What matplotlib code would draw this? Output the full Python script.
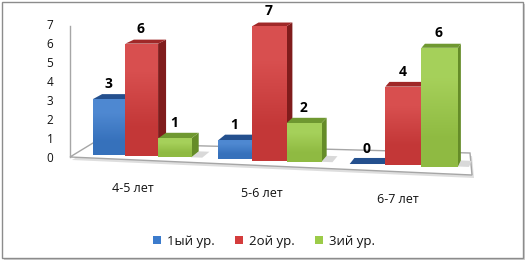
import matplotlib
matplotlib.use('Agg')
import numpy as np
import matplotlib.pyplot as plt
from matplotlib.patches import Polygon, Rectangle, Patch
from matplotlib.colors import to_rgb

# ---------------- data ----------------
categories = ['4-5 лет', '5-6 лет', '6-7 лет']
series_names = ['1ый ур.', '2ой ур.', '3ий ур.']
level1 = [3, 1, 0]
level2 = [6, 7, 4]
level3 = [1, 2, 6]
y_ticks = [0, 1, 2, 3, 4, 5, 6, 7]

# ---------------- style ----------------
front_colors = ['#3b7bcc', '#d43c3c', '#9ccb48']
top_colors = ['#24508e', '#a02828', '#6f9830']
side_colors = ['#1f4478', '#801c1c', '#658c28']

plt.rcParams['font.family'] = ['Open Sans', 'DejaVu Sans']

W, H = 527, 262
fig = plt.figure(figsize=(W / 100, H / 100), dpi=100)
ax = fig.add_axes([0, 0, 1, 1])
ax.axis('off')

# ---------------- 3D-like projection (pixel space) ----------------
GROUP_STEP = 3.8


def front_x(u):
    return 93 + 32.1 * u + 0.22 * u * u


def base_y(x):
    return 155.0 + 0.035 * (x - 110)


def unit_px(x):
    return 18.6 + 0.0035 * (x - 100)


VP = (628.0, -192.0)
DEPTH = 0.017


def back(x, y):
    return (x + DEPTH * (VP[0] - x), y + DEPTH * (VP[1] - y))


def axis_y(v):
    return 158.5 - 19.0 * v


def shade(c, f):
    r = np.array(to_rgb(c))
    if f >= 0:
        return tuple(r + (1 - r) * f)
    return tuple(r * (1 + f))


# outer frame with shadow
ax.add_patch(Rectangle((3.5, 3.5), 521, 256, facecolor='#d0d0d0', edgecolor='none', zorder=0))
ax.add_patch(Rectangle((1.5, 1.5), 521, 256, facecolor='white', edgecolor='#8c8c8c', lw=1.0, zorder=0.5))

# floor
floor = [(70, 157), (472, 175), (470, 153), (93, 143)]
ax.add_patch(Polygon([(x + 2, y + 3) for x, y in floor], closed=True, facecolor='#dedede',
                     edgecolor='none', zorder=1))
ax.add_patch(Polygon(floor, closed=True, facecolor='white', edgecolor='#a6a6a6', lw=1.0, zorder=1.2))

# vertical axis
ax.plot([70, 70], [axis_y(y_ticks[-1]), 157], color='#a6a6a6', lw=1.0, zorder=1.3)
for t in y_ticks:
    ax.text(50, axis_y(t), str(t), ha='center', va='center', fontsize=8.5, color='#111111')

# bars
series = [level1, level2, level3]
z = 2
for g, cat in enumerate(categories):
    for s, vals in enumerate(series):
        v = vals[g]
        u = g * GROUP_STEP + s
        xl, xr = front_x(u), front_x(u + 1)
        xc = (xl + xr) / 2
        yb = base_y(xc)
        h = unit_px(xc) * v
        yt = yb - h
        # soft shadow on floor
        sh = [(xr, yb), (xr + 11, yb + 0.4), back(xr + 11, yb + 0.4), back(xr, yb)]
        ax.add_patch(Polygon(sh, closed=True, facecolor='#d9d9d9', edgecolor='none', zorder=1.5))
        # side face
        side = [(xr, yt), (xr, yb), back(xr, yb), back(xr, yt)]
        ax.add_patch(Polygon(side, closed=True, facecolor=side_colors[s], edgecolor='none', zorder=z))
        # top face
        top = [(xl, yt), (xr, yt), back(xr, yt), back(xl, yt)]
        ax.add_patch(Polygon(top, closed=True, facecolor=top_colors[s], edgecolor='none', zorder=z + 0.1))
        # front face with gentle vertical gradient
        cont = ax.bar(xl, h, width=xr - xl, bottom=yt, align='edge', color=front_colors[s],
                      edgecolor='none', zorder=z + 0.2)
        if h > 0:
            grad = np.array([[shade(front_colors[s], 0.10)], [shade(front_colors[s], -0.08)]])
            im = ax.imshow(grad, extent=(xl, xr, yb, yt), aspect='auto', interpolation='bilinear',
                           zorder=z + 0.3)
            im.set_clip_path(cont.patches[0])
        ax.text(xc - 1, yt - 15, str(v), ha='center', va='center', fontsize=10,
                fontweight='bold', color='black', zorder=50)
        z += 1
    gx = front_x(g * GROUP_STEP + 1.5)
    ax.text(gx - 9 + 0.0143 * (gx - 141.6), base_y(gx) + 32 + 0.007 * (gx - 141.6), cat,
            ha='center', va='center', fontsize=9, color='#111111')

ax.set_xlim(0, W)
ax.set_ylim(H, 0)

handles = [Patch(facecolor=c, edgecolor='none') for c in front_colors]
fig.legend(handles, series_names, loc='center', bbox_to_anchor=(264 / W, 1 - 241 / H), ncol=3,
           frameon=False, fontsize=9.5, handlelength=0.55, handleheight=0.55, handletextpad=0.45,
           columnspacing=1.6, labelcolor='#111111')

fig.savefig('out.png', dpi=100)
